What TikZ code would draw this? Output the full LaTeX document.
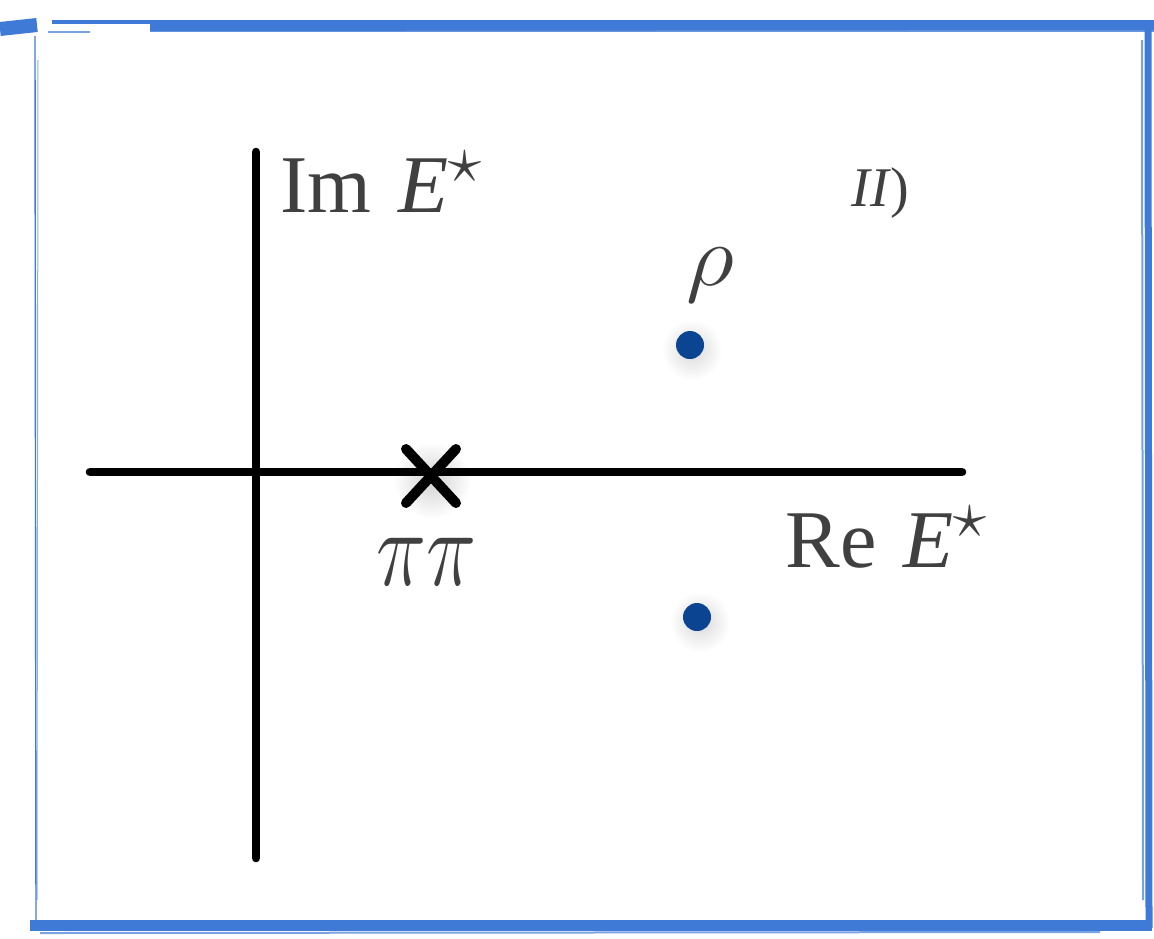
\documentclass[tikz,border=0pt]{standalone}
\usepackage{fontspec}
\usepackage{graphicx}
\setmainfont{Liberation Serif}
\definecolor{frameblue}{HTML}{3F7BD6}
\definecolor{dotblue}{HTML}{0B4592}
\definecolor{txt}{HTML}{404040}
\newcommand{\bstar}{\raisebox{0.36em}{\scalebox{1.35}{$\star$}}}
\tikzset{
  axis/.style={line width=4.3pt, line cap=round, black},
  framestroke/.style={frameblue, line cap=butt},
  lbl/.style={inner sep=0pt, text=txt, font=\fontsize{41}{49}\selectfont},
  glow/.style={inner color=black!25, outer color=white},
}
\begin{document}
\begin{tikzpicture}[x=0.5pt,y=-0.5pt]
\useasboundingbox (0,0) rectangle (1154,938);
\fill[white] (0,0) rectangle (1154,938);
% sketchy frame
\draw[framestroke, line width=0.7pt] (35,36) -- (36,930);
\draw[framestroke, line width=0.5pt, opacity=0.6] (38,60) -- (37,900);
\draw[framestroke, line width=7pt] (0,29) -- (37,25);
\draw[framestroke, line width=2pt] (52,22) -- (1154,22);
\draw[framestroke, line width=4pt] (150,27) -- (1154,26);
\draw[framestroke, line width=0.8pt, opacity=0.7] (48,32) -- (90,32);
\draw[framestroke, line width=1pt, opacity=0.8] (150,31) -- (1154,31);
\draw[framestroke, line width=3.5pt] (1148,22) -- (1149,928);
\draw[framestroke, line width=1pt, opacity=0.7] (1142,40) -- (1143,900);
\draw[framestroke, line width=5.5pt] (30,925) -- (1152,925);
\draw[framestroke, line width=1pt, opacity=0.7] (40,933) -- (1100,932);
% axes
\coordinate (vtop) at (256,152);
\coordinate (vbot) at (256,858);
\coordinate (hl) at (90,472);
\coordinate (hr) at (962,472);
\draw[axis] (vtop) -- (vbot);
% threshold cross
\shade[glow, opacity=0.7] (432,480) circle[radius=38];
\draw[axis] (hl) -- (hr);
\coordinate (cross) at (431,476);
\draw[line width=5pt, line cap=round] ([shift={(-25,-27)}]cross) -- ([shift={(25,27)}]cross);
\draw[line width=5pt, line cap=round] ([shift={(25,-27)}]cross) -- ([shift={(-25,27)}]cross);
% poles
\shade[glow, opacity=0.6] (692,350) circle[radius=30];
\shade[glow, opacity=0.6] (700,622) circle[radius=30];
\node[circle, fill=dotblue, inner sep=0pt, minimum size=14pt] (pole1) at (690,345) {};
\node[circle, fill=dotblue, inner sep=0pt, minimum size=14pt] (pole2) at (697,617) {};
% labels
\node[lbl, anchor=base west] (im) at (280,212) {Im\hspace{0.08em} \textit{E}\bstar};
\node[lbl, anchor=base west] (re) at (785,567) {Re\hspace{0.08em} \textit{E}\bstar};
\node[lbl, anchor=base west] (pipi) at (376,585) {\scalebox{1.7}[2.2]{$\pi\pi$}};
\node[lbl, anchor=base west] (rho) at (686,285) {\scalebox{1.9}[1.75]{$\rho$}};
\node[inner sep=0pt, text=txt, font=\fontsize{28}{34}\selectfont, anchor=base west] (sheet) at (851,206) {\textit{II})};
\end{tikzpicture}
\end{document}
